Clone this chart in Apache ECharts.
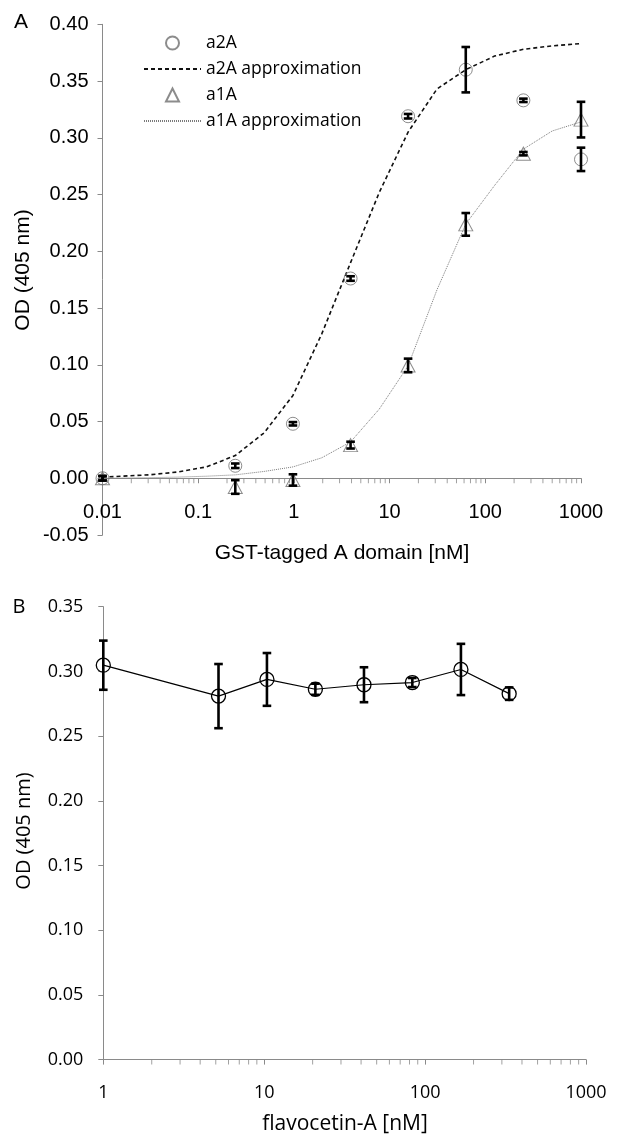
<!DOCTYPE html>
<html><head><meta charset="utf-8">
<script src="https://cdn.jsdelivr.net/npm/echarts@6/dist/echarts.min.js"></script>
<style>html,body{margin:0;padding:0;background:#fff}#c{width:623px;height:1134px}</style>
</head><body><div id="c"></div>
<script>
// ---------- Panel A data ----------
const concA   = [0.01, 0.244, 0.977, 3.91, 15.6, 62.5, 250, 1000];
const a2A     = [0.000, 0.011, 0.048, 0.176, 0.319, 0.360, 0.333, 0.281];
const a2AErr  = [0.002, 0.002, 0.0015, 0.002, 0.002, 0.020, 0.0015, 0.0103];
const a1A     = [0.000, -0.0077, -0.0015, 0.0292, 0.0994, 0.2237, 0.286, 0.316];
const a1AErr  = [0.002, 0.006, 0.005, 0.003, 0.006, 0.010, 0.0015, 0.0157];
const concFit = [0.01, 0.0305, 0.061, 0.122, 0.244, 0.488, 0.977, 1.95, 3.91, 7.81, 15.6, 31.25, 62.5, 125, 250, 500, 1000];
const a2AFit  = [0.001, 0.003, 0.0055, 0.010, 0.020, 0.040, 0.073, 0.127, 0.190, 0.252, 0.305, 0.343, 0.360, 0.372, 0.378, 0.381, 0.383];
const a1AFit  = [0.000, 0.0005, 0.001, 0.0018, 0.003, 0.006, 0.010, 0.018, 0.032, 0.061, 0.099, 0.166, 0.224, 0.258, 0.290, 0.306, 0.314];
const yRangeA = [-0.05, 0.40];
const xRangeA = [0.01, 1000];
const decadesA = [0.01, 0.1, 1, 10, 100];

// ---------- Panel B data ----------
const concB   = [1, 5.2, 10.4, 20.8, 41.7, 83.3, 167, 333];
const flavo   = [0.3048, 0.2809, 0.2938, 0.2862, 0.2897, 0.2914, 0.3015, 0.2828];
const flavoErr= [0.019, 0.0248, 0.0204, 0.0043, 0.0135, 0.0035, 0.0198, 0.0048];
const yRangeB = [0, 0.35];
const xRangeB = [1, 1000];
const decadesB = [1, 10, 100];

const minorMult = [2, 3, 4, 5, 6, 7, 8, 9];
const AX = '#8a8a8a';

const pts = (xs, ys) => xs.map((x, i) => [x, ys[i]]);
const minorTicks = ds => { const o = []; ds.forEach(d => minorMult.forEach(m => o.push([d * m, 0]))); return o; };
const fmtY = v => (Math.abs(v) < 1e-9 ? 0 : v).toFixed(2);
const fmtX = v => String(+Number(v).toPrecision(6));

function renderErr(params, api) {
  const x = api.value(0), y = api.value(1), e = api.value(2);
  const t = api.coord([x, y + e]), b = api.coord([x, y - e]);
  const hw = 4.3, st = { stroke: '#000', lineWidth: 2.6 };
  return { type: 'group', children: [
    { type: 'line', shape: { x1: t[0], y1: t[1], x2: b[0], y2: b[1] }, style: st },
    { type: 'line', shape: { x1: t[0] - hw, y1: t[1], x2: t[0] + hw, y2: t[1] }, style: st },
    { type: 'line', shape: { x1: b[0] - hw, y1: b[1], x2: b[0] + hw, y2: b[1] }, style: st }
  ]};
}
const errSeries = (xs, ys, es, idx) => ({
  type: 'custom', xAxisIndex: idx, yAxisIndex: idx, renderItem: renderErr,
  data: xs.map((x, i) => [x, ys[i], es[i]]), encode: { x: 0, y: 1 },
  z: 6, silent: true, clip: false
});
const minorSeries = (ds, idx) => ({
  type: 'scatter', xAxisIndex: idx, yAxisIndex: idx, data: minorTicks(ds),
  symbol: 'rect', symbolSize: [1, 5], symbolOffset: [0, 2.5],
  itemStyle: { color: AX }, silent: true, z: 1, clip: false
});

const chart = echarts.init(document.getElementById('c'), null, { renderer: 'canvas' });
const fA = 'Liberation Sans', fB = 'Open Sans';
const TRI = 'path://M1,0L2,2L0,2Z';

chart.setOption({
  animation: false,
  backgroundColor: '#fff',
  grid: [
    { left: 102.5, top: 24.3, width: 478.5, height: 510.7 },
    { left: 103.3, top: 606.7, width: 482.7, height: 452.9 }
  ],
  xAxis: [
    { type: 'log', gridIndex: 0, logBase: 10, min: xRangeA[0], max: xRangeA[1], splitNumber: 5,
      axisLine: { onZero: true, lineStyle: { color: AX, width: 1 } },
      axisTick: { show: true, length: 5, lineStyle: { color: AX } },
      axisLabel: { margin: -33, fontFamily: fA, fontSize: 20, color: '#000', formatter: fmtX },
      splitLine: { show: false } },
    { type: 'log', gridIndex: 1, logBase: 10, min: xRangeB[0], max: xRangeB[1], splitNumber: 3,
      axisLine: { onZero: true, lineStyle: { color: AX, width: 1 } },
      axisTick: { show: true, length: 5, lineStyle: { color: AX } },
      axisLabel: { margin: 24, fontFamily: fB, fontSize: 18, color: '#000', formatter: fmtX },
      splitLine: { show: false } }
  ],
  yAxis: [
    { type: 'value', gridIndex: 0, min: yRangeA[0], max: yRangeA[1], interval: 0.05,
      axisLine: { show: true, onZero: false, lineStyle: { color: AX, width: 1 } },
      axisTick: { show: true, length: 5, lineStyle: { color: AX } },
      axisLabel: { margin: 14, fontFamily: fA, fontSize: 20, color: '#000', formatter: fmtY },
      splitLine: { show: false } },
    { type: 'value', gridIndex: 1, min: yRangeB[0], max: yRangeB[1], interval: 0.05,
      axisLine: { show: true, onZero: false, lineStyle: { color: AX, width: 1 } },
      axisTick: { show: true, length: 5, lineStyle: { color: AX } },
      axisLabel: { margin: 20, fontFamily: fB, fontSize: 18, color: '#000', formatter: fmtY },
      splitLine: { show: false } }
  ],
  legend: {
    orient: 'vertical', left: 138, top: 28, itemWidth: 57, itemHeight: 13, itemGap: 6,
    selectedMode: false, symbolKeepAspect: true,
    textStyle: { fontFamily: fB, fontSize: 17.5, color: '#000', lineHeight: 20 },
    data: [
      { name: 'a2A', icon: 'circle' },
      { name: 'a2A approximation', itemStyle: { opacity: 0 } },
      { name: 'a1A', icon: TRI },
      { name: 'a1A approximation', itemStyle: { opacity: 0 } }
    ]
  },
  series: [
    minorSeries(decadesA, 0),
    minorSeries(decadesB, 1),
    { name: 'a2A approximation', type: 'line', xAxisIndex: 0, yAxisIndex: 0,
      data: pts(concFit, a2AFit), symbol: 'none', smooth: false, z: 2,
      lineStyle: { color: '#111', width: 1.6, type: [4, 3] }, itemStyle: { color: '#111' } },
    { name: 'a1A approximation', type: 'line', xAxisIndex: 0, yAxisIndex: 0,
      data: pts(concFit, a1AFit), symbol: 'none', smooth: false, z: 2,
      lineStyle: { color: '#7a7a7a', width: 1, type: [1, 1] }, itemStyle: { color: '#7a7a7a' } },
    { name: 'a2A', type: 'scatter', xAxisIndex: 0, yAxisIndex: 0, data: pts(concA, a2A),
      symbol: 'circle', symbolSize: 13, z: 3, clip: false,
      itemStyle: { color: 'rgba(255,255,255,0)', borderColor: '#6f6f6f', borderWidth: 1 } },
    { name: 'a1A', type: 'scatter', xAxisIndex: 0, yAxisIndex: 0, data: pts(concA, a1A),
      symbol: 'triangle', symbolSize: [14, 13], z: 3, clip: false,
      itemStyle: { color: 'rgba(255,255,255,0)', borderColor: '#6f6f6f', borderWidth: 1 } },
    errSeries(concA, a2A, a2AErr, 0),
    errSeries(concA, a1A, a1AErr, 0),
    { name: 'flavocetin-A', type: 'line', xAxisIndex: 1, yAxisIndex: 1, data: pts(concB, flavo),
      symbol: 'circle', symbolSize: 14, showAllSymbol: true, z: 3, clip: false,
      lineStyle: { color: '#000', width: 1.2 },
      itemStyle: { color: 'rgba(255,255,255,0)', borderColor: '#000', borderWidth: 1.3 } },
    errSeries(concB, flavo, flavoErr, 1)
  ],
  graphic: [
    { type: 'text', x: 21, y: 22, style: { text: 'A', font: '21px "Liberation Sans"', fill: '#000', align: 'center', verticalAlign: 'middle' } },
    { type: 'text', x: 23, y: 270, rotation: Math.PI / 2, style: { text: 'OD (405 nm)', font: '21px "Liberation Sans"', fill: '#000', align: 'center', verticalAlign: 'middle' } },
    { type: 'text', x: 342, y: 553, style: { text: 'GST-tagged A domain [nM]', font: '21px "Liberation Sans"', fill: '#000', align: 'center', verticalAlign: 'middle' } },
    { type: 'text', x: 19, y: 607, style: { text: 'B', font: '20px "Open Sans"', fill: '#000', align: 'center', verticalAlign: 'middle' } },
    { type: 'text', x: 24, y: 831, rotation: Math.PI / 2, style: { text: 'OD (405 nm)', font: '20px "Open Sans"', fill: '#000', align: 'center', verticalAlign: 'middle' } },
    { type: 'text', x: 345, y: 1124, style: { text: 'flavocetin-A [nM]', font: '21px "Open Sans"', fill: '#000', align: 'center', verticalAlign: 'middle' } }
  ]
});
</script>
</body></html>
